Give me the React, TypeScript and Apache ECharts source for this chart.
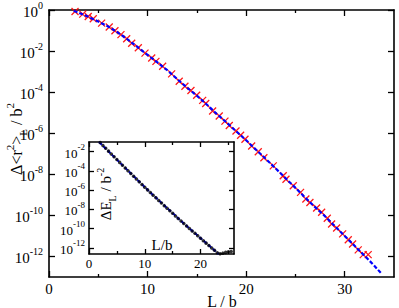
import React, { useEffect, useRef } from "react";
import * as echarts from "echarts";

// Main panel: red crosses (simulation) L/b and Δ<r²>_L/b²
const mainL = [2.64, 3.42, 3.98, 4.49, 5.34, 6.11, 6.69, 7.3, 7.88, 8.39, 9.06, 9.74, 10.42, 10.85, 11.53, 12.44, 13.21, 13.79, 14.4, 14.98, 15.59, 15.9, 16.6, 17.27, 17.85, 18.29, 18.97, 19.44, 19.88, 20.56, 21.23, 21.8, 22.75, 23.76, 24.04, 24.78, 25.52, 26.06, 26.47, 27.15, 27.66, 28.23, 28.67, 29.18, 29.79, 30.36, 30.8, 31.37, 31.88, 32.38];
const mainMSD = [0.851, 0.631, 0.479, 0.372, 0.229, 0.148, 0.0977, 0.0631, 0.0398, 0.024, 0.0145, 7.94e-3, 4.57e-3, 3.16e-3, 1.82e-3, 7.76e-4, 3.39e-4, 1.95e-4, 1.2e-4, 7.08e-5, 3.98e-5, 2.82e-5, 1.2e-5, 6.92e-6, 3.89e-6, 2.4e-6, 1.29e-6, 7.94e-7, 5.13e-7, 2.4e-7, 1.26e-7, 6.46e-8, 2.57e-8, 8.51e-9, 5.75e-9, 2.75e-9, 1.32e-9, 6.31e-10, 4.27e-10, 2.29e-10, 1.41e-10, 7.24e-11, 3.8e-11, 2.45e-11, 1.26e-11, 6.46e-12, 4.07e-12, 2.09e-12, 1.23e-12, 1.23e-12];

// Main panel: blue dashed curve
const fitL = [2.5, 3, 4, 5, 6, 7, 8, 9, 10, 11, 12, 13, 14, 15, 16, 17, 18, 19, 20, 21, 22, 23, 24, 25, 26, 27, 28, 29, 30, 31, 32, 33, 33.7];
const fitMSD = [0.912, 0.741, 0.468, 0.275, 0.158, 0.0794, 0.0363, 0.0155, 6.46e-3, 2.82e-3, 1.17e-3, 4.37e-4, 1.66e-4, 6.76e-5, 2.51e-5, 8.91e-6, 3.39e-6, 1.23e-6, 4.57e-7, 1.58e-7, 5.62e-8, 1.91e-8, 6.46e-9, 2.19e-9, 7.24e-10, 2.51e-10, 9.12e-11, 2.95e-11, 1.0e-11, 3.31e-12, 1.1e-12, 3.55e-13, 1.51e-13];

// Inset: black dots ΔE_L
const insetL = [2, 2.5, 3, 3.5, 4, 4.5, 5, 5.5, 6, 6.5, 7, 7.5, 8, 8.5, 9, 9.5, 10, 10.5, 11, 11.5, 12, 12.5, 13, 13.5, 14, 14.5, 15, 15.5, 16, 16.5, 17, 17.5, 18, 18.5, 19, 19.5, 20, 20.5, 21, 21.5, 22, 22.5, 23, 23.5, 24, 24.5, 25, 25.5];
const insetDE = [8.71e-2, 4.37e-2, 2.24e-2, 1.12e-2, 5.75e-3, 2.88e-3, 1.48e-3, 7.59e-4, 3.89e-4, 2.0e-4, 1.02e-4, 5.25e-5, 2.69e-5, 1.41e-5, 7.24e-6, 3.8e-6, 2.0e-6, 1.05e-6, 5.5e-7, 2.95e-7, 1.55e-7, 8.32e-8, 4.47e-8, 2.4e-8, 1.29e-8, 6.92e-9, 3.8e-9, 2.04e-9, 1.12e-9, 6.17e-10, 3.39e-10, 1.86e-10, 1.02e-10, 5.62e-11, 3.16e-11, 1.74e-11, 9.77e-12, 5.37e-12, 3.02e-12, 1.7e-12, 9.55e-13, 5.37e-13, 3.02e-13, 2.4e-13, 2.75e-13, 3.31e-13, 3.8e-13, 4.17e-13];

// Inset: blue dashed fit
const insetFitL = [1.8, 6, 11, 17, 23.25];
const insetFitDE = [1.0e-1, 3.89e-4, 5.5e-7, 3.39e-10, 2.24e-13];

// Ticks
const mainXTicks = [0, 10, 20, 30];
const mainXMinor = [5, 15, 25];
const mainYExp = [0, -2, -4, -6, -8, -10, -12];
const insetXTicks = [0, 10, 20];
const insetXMinor = [5, 15, 25];
const insetYExp = [-2, -4, -6, -8, -10, -12];

const FONT = "Liberation Serif, serif";

function xAx(grid: number, pos: string, min: number, max: number, ticks: number[], len: number, line: boolean, label: any) {
  return {
    type: "value", gridIndex: grid, position: pos, min, max,
    axisLine: { show: line, onZero: false, lineStyle: { color: "#000", width: 1.6 } },
    axisTick: { show: true, inside: true, length: len, customValues: ticks, lineStyle: { color: "#000", width: 1.3 } },
    axisLabel: label ? { show: true, customValues: ticks, ...label } : { show: false },
    splitLine: { show: false },
    minorTick: { show: false },
  };
}

function supRich(big: number, small: number, lh: number) {
  return {
    b: { fontSize: big, fontFamily: FONT, color: "#000", lineHeight: lh, padding: [3, 0, 0, 0] },
    s: { fontSize: small, fontFamily: FONT, color: "#000", lineHeight: small, verticalAlign: "top" },
  };
}

const expFmt = (v: number) => `{b|10}{s|${Math.round(v)}}`;

export default function App() {
  const ref = useRef<HTMLDivElement>(null);
  useEffect(() => {
    if (!ref.current) return;
    const chart = echarts.init(ref.current, undefined, { renderer: "svg" });
    const lg = (a: number[]) => a.map((v) => Math.log10(v));
    const mMSD = lg(mainMSD);
    const fMSD = lg(fitMSD);
    const iDE = lg(insetDE);
    const ifDE = lg(insetFitDE);

    const xLabelMain = { fontSize: 15, fontFamily: FONT, color: "#000", margin: 4 };
    const xLabelInset = { fontSize: 13, fontFamily: FONT, color: "#000", margin: 3 };

    const option: any = {
      animation: false,
      backgroundColor: "#fff",
      textStyle: { fontFamily: FONT },
      grid: [
        { left: 49, top: 9, width: 345, height: 268, show: false },
        { left: 89, top: 142, width: 145, height: 112, show: true, backgroundColor: "#fff", borderWidth: 0, z: 5 },
      ],
      xAxis: [
        xAx(0, "bottom", 0, 35, mainXTicks, 6, true, xLabelMain),
        xAx(0, "top", 0, 35, mainXTicks, 6, true, null),
        xAx(0, "bottom", 0, 35, mainXMinor, 3, false, null),
        xAx(0, "top", 0, 35, mainXMinor, 3, false, null),
        { ...xAx(1, "bottom", 0, 26, insetXTicks, 5, true, xLabelInset), z: 6 },
        { ...xAx(1, "top", 0, 26, insetXTicks, 5, true, null), z: 6 },
        { ...xAx(1, "bottom", 0, 26, insetXMinor, 3, false, null), z: 6 },
        { ...xAx(1, "top", 0, 26, insetXMinor, 3, false, null), z: 6 },
      ],
      yAxis: [
        xAx(0, "left", -13, 0, mainYExp, 6, true, { formatter: expFmt, margin: 6, rich: supRich(15, 10, 20) }),
        xAx(0, "right", -13, 0, mainYExp, 6, true, null),
        { ...xAx(1, "left", -12.65, -1, insetYExp, 5, true, { formatter: expFmt, margin: 4, rich: supRich(13, 9, 18) }), z: 6 },
        { ...xAx(1, "right", -12.65, -1, insetYExp, 5, true, null), z: 6 },
      ],
      series: [
        {
          type: "scatter", xAxisIndex: 0, yAxisIndex: 0,
          data: mainL.map((l, i) => [l, mMSD[i]]),
          symbol: "path://M0 0L10 10M10 0L0 10", symbolSize: 7,
          itemStyle: { color: "none", borderColor: "#ff0000", borderWidth: 1.3, opacity: 0.9 },
          z: 3,
        },
        {
          type: "line", xAxisIndex: 0, yAxisIndex: 0,
          data: fitL.map((l, i) => [l, fMSD[i]]),
          symbol: "none", lineStyle: { color: "#0000ff", width: 2.2, type: [4, 2] },
          z: 4,
        },
        {
          type: "line", xAxisIndex: 4, yAxisIndex: 2,
          data: insetFitL.map((l, i) => [l, ifDE[i]]),
          symbol: "none", lineStyle: { color: "#0000ff", width: 2, type: [4, 2] },
          clip: true, z: 7,
        },
        {
          type: "scatter", xAxisIndex: 4, yAxisIndex: 2,
          data: insetL.map((l, i) => [l, iDE[i]]),
          symbol: "circle", symbolSize: 3.5,
          itemStyle: { color: "#000" },
          clip: true, z: 8,
        },
      ],
      graphic: [
        {
          type: "text", x: 16, y: 139, rotation: Math.PI / 2, z: 100,
          style: {
            text: "{n|Δ<r}{sup|2}{n|>}{sub|L}{n| / b}{sup|2}",
            align: "center", verticalAlign: "middle",
            rich: {
              n: { fontSize: 16, fontFamily: FONT, fill: "#000", lineHeight: 24 },
              sup: { fontSize: 11, fontFamily: FONT, fill: "#000", lineHeight: 11, verticalAlign: "top" },
              sub: { fontSize: 11, fontFamily: FONT, fill: "#000", lineHeight: 11, verticalAlign: "bottom" },
            },
          },
        },
        {
          type: "text", x: 222, y: 301, z: 100,
          style: { text: "L / b", fontSize: 16, fontFamily: FONT, fill: "#000", align: "center", verticalAlign: "middle" },
        },
        {
          type: "text", x: 106, y: 194, rotation: Math.PI / 2, z: 100,
          style: {
            text: "{n|ΔE}{sub|L}{n| / b}{sup|-2}",
            align: "center", verticalAlign: "middle",
            rich: {
              n: { fontSize: 15, fontFamily: FONT, fill: "#000", lineHeight: 22 },
              sup: { fontSize: 10, fontFamily: FONT, fill: "#000", lineHeight: 10, verticalAlign: "top" },
              sub: { fontSize: 10, fontFamily: FONT, fill: "#000", lineHeight: 10, verticalAlign: "bottom" },
            },
          },
        },
        {
          type: "text", x: 162, y: 245, z: 100,
          style: { text: "L/b", fontSize: 15, fontFamily: FONT, fill: "#000", align: "center", verticalAlign: "middle" },
        },
      ],
    };
    chart.setOption(option);
    return () => chart.dispose();
  }, []);
  return <div ref={ref} style={{ position: "absolute", left: 0, top: 0, width: 399, height: 308 }} />;
}
